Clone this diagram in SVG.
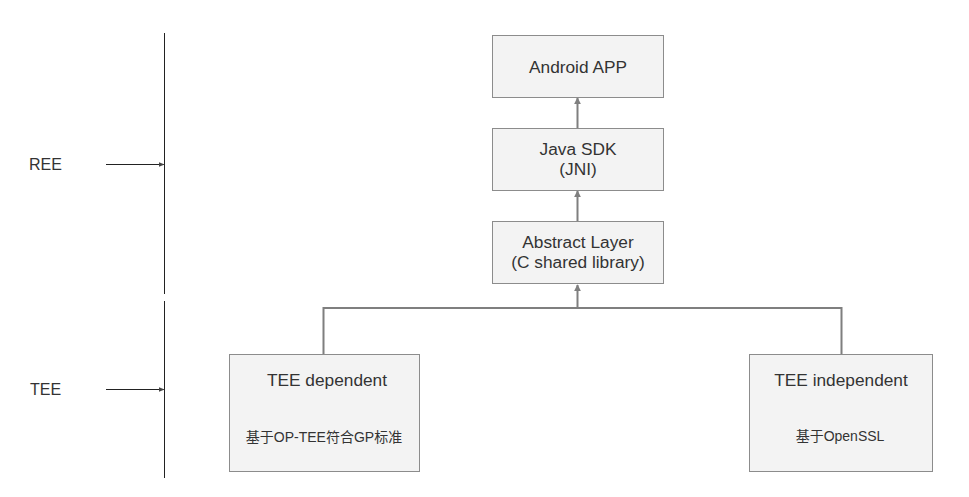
<svg xmlns="http://www.w3.org/2000/svg" width="969" height="497" viewBox="0 0 969 497">
<style>
.box{fill:#f3f3f3;stroke:#8c8c8c;stroke-width:1}
.t{font-family:"Liberation Sans",Arial,sans-serif;font-size:17.3px;fill:#333;text-anchor:middle}
.s{font-family:"Liberation Sans","Noto Sans CJK SC",sans-serif;font-size:14px;fill:#333;text-anchor:middle}
.lbl{font-family:"Liberation Sans",Arial,sans-serif;font-size:16px;fill:#333}
.conn{fill:none;stroke:#7f7f7f;stroke-width:2}
.axis{fill:none;stroke:#222;stroke-width:1}
</style>
<defs>
<marker id="ah" viewBox="0 0 10 10" refX="9" refY="5" markerWidth="3.5" markerHeight="3.5" orient="auto" markerUnits="strokeWidth">
<path d="M0,0 L10,5 L0,10 z" fill="#7f7f7f"/>
</marker>
<marker id="ah2" viewBox="0 0 10 10" refX="9" refY="5" markerWidth="6" markerHeight="6" orient="auto" markerUnits="strokeWidth">
<path d="M0,1 L10,5 L0,9 z" fill="#444"/>
</marker>
</defs>
<rect width="969" height="497" fill="#ffffff"/>
<g id="axis">
<line class="axis" x1="164.5" y1="33" x2="164.5" y2="294"/>
<line class="axis" x1="164.5" y1="301" x2="164.5" y2="478"/>
<line class="axis" x1="106" y1="164.5" x2="164" y2="164.5" marker-end="url(#ah2)"/>
<line class="axis" x1="106" y1="389.5" x2="164" y2="389.5" marker-end="url(#ah2)"/>
<text class="lbl" x="29" y="170">REE</text>
<text class="lbl" x="30" y="395">TEE</text>
</g>
<g id="connectors">
<line class="conn" x1="577.5" y1="128" x2="577.5" y2="98" marker-end="url(#ah)"/>
<line class="conn" x1="577.5" y1="221" x2="577.5" y2="191" marker-end="url(#ah)"/>
<line class="conn" x1="577.5" y1="308" x2="577.5" y2="285" marker-end="url(#ah)"/>
<polyline class="conn" points="323.5,354 323.5,308 841.5,308 841.5,354"/>
</g>
<g id="android-app">
<rect class="box" x="492.5" y="35.5" width="171" height="62"/>
<text class="t" x="578" y="72.5">Android APP</text>
</g>
<g id="java-sdk">
<rect class="box" x="492.5" y="128.5" width="171" height="62"/>
<text class="t" x="578" y="155">Java SDK</text>
<text class="t" x="578" y="175">(JNI)</text>
</g>
<g id="abstract-layer">
<rect class="box" x="492.5" y="221.5" width="171" height="62"/>
<text class="t" x="578" y="248">Abstract Layer</text>
<text class="t" x="578" y="268">(C shared library)</text>
</g>
<g id="tee-dependent">
<rect class="box" x="229.5" y="354.5" width="190" height="117"/>
<text class="t" x="327" y="386">TEE dependent</text>
<text class="s" x="324" y="442">基于OP-TEE符合GP标准</text>
</g>
<g id="tee-independent">
<rect class="box" x="749.5" y="354.5" width="183" height="117"/>
<text class="t" x="841" y="386">TEE independent</text>
<text class="s" x="840" y="441">基于OpenSSL</text>
</g>
</svg>
